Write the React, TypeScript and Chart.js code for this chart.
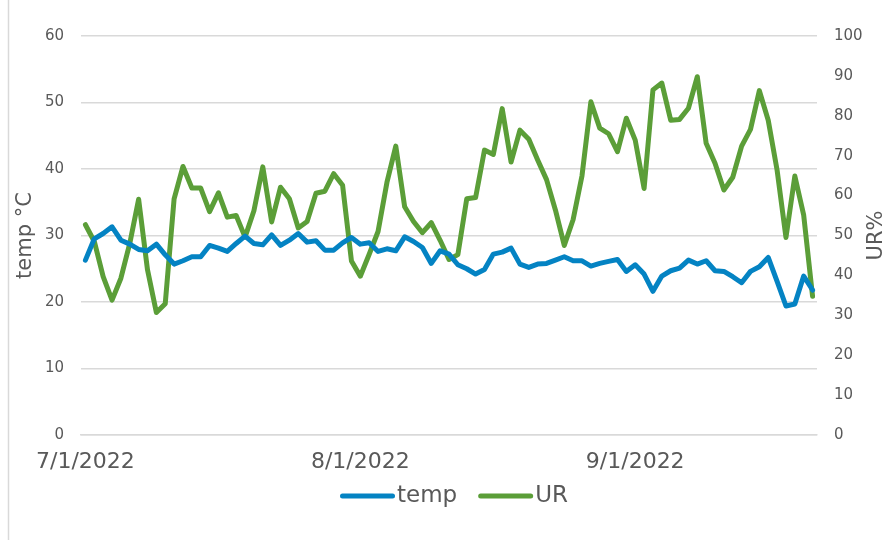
import React, { useEffect, useRef } from 'react';
import { Chart, registerables } from 'chart.js';

Chart.register(...registerables);

// ---- data ----
const YEAR = 2022;
const MONTHS = [7, 8, 9];
const DAYS_SHOWN = [31, 31, 21]; // data runs 7/1/2022 .. 9/21/2022
const dateLabels: string[] = [];
MONTHS.forEach((m, k) => {
  for (let d = 1; d <= DAYS_SHOWN[k]; d++) dateLabels.push(`${m}/${d}/${YEAR}`);
});

const tempValues = [
  26.3, 29.5, 30.3, 31.3, 29.3, 28.7, 27.9, 27.7, 28.7, 27.1,
  25.7, 26.2, 26.8, 26.8, 28.5, 28.1, 27.6, 28.8, 29.9, 28.8,
  28.6, 30.1, 28.5, 29.3, 30.3, 29.0, 29.2, 27.8, 27.8, 28.9,
  29.7, 28.7, 28.9, 27.6, 28.0, 27.7, 29.8, 29.1, 28.2, 25.8,
  27.7, 27.2, 25.6, 25.0, 24.2, 24.9, 27.2, 27.5, 28.1, 25.7,
  25.2, 25.7, 25.8, 26.3, 26.8, 26.2, 26.2, 25.4, 25.8, 26.1,
  26.4, 24.6, 25.6, 24.2, 21.6, 23.9, 24.7, 25.1, 26.3, 25.7,
  26.2, 24.7, 24.6, 23.8, 22.9, 24.6, 25.3, 26.7, 23.1, 19.4,
  19.7, 23.9, 21.8,
];

const urValues = [
  52.7, 48.5, 39.7, 33.8, 39.3, 48.0, 59.1, 41.4, 30.7, 32.9,
  59.2, 67.3, 61.9, 61.9, 56.0, 60.7, 54.6, 55.0, 49.6, 56.2,
  67.2, 53.4, 62.1, 59.2, 51.9, 53.5, 60.6, 61.1, 65.5, 62.6,
  43.6, 39.8, 45.3, 51.0, 63.3, 72.4, 57.2, 53.5, 50.7, 53.2,
  48.8, 44.0, 45.2, 59.2, 59.5, 71.4, 70.3, 81.8, 68.4, 76.4,
  74.1, 68.9, 64.0, 56.4, 47.5, 54.0, 65.0, 83.5, 76.9, 75.5,
  71.0, 79.4, 73.9, 61.8, 86.5, 88.2, 78.9, 79.1, 81.9, 89.8,
  73.1, 68.1, 61.4, 64.6, 72.4, 76.6, 86.3, 78.9, 66.4, 49.5,
  64.9, 55.1, 34.8,
];

const seriesNames = ['temp', 'UR'];
const tempAxisTitle = 'temp °C';
const urAxisTitle = 'UR%';

// ---- styles ----
const FONT = "'DejaVu Sans', Verdana, sans-serif";
const TEXT = '#595959';
const GRID = '#d9d9d9';
const BLUE = '#0483C3';
const GREEN = '#5B9E38';

const isMonthStart = (i: number) => {
  const l = dateLabels[i];
  return typeof l === 'string' && l.split('/')[1] === '1';
};

const framePlugin = {
  id: 'frame',
  beforeDraw(chart: any) {
    const ctx = chart.ctx;
    ctx.save();
    ctx.fillStyle = '#ffffff';
    ctx.fillRect(0, 0, chart.width, chart.height);
    ctx.strokeStyle = GRID;
    ctx.lineWidth = 1.5;
    ctx.beginPath();
    ctx.moveTo(8.5, 0);
    ctx.lineTo(8.5, chart.height);
    ctx.stroke();
    ctx.restore();
  },
};

const legendPlugin = {
  id: 'customLegend',
  afterDraw(chart: any) {
    const ctx = chart.ctx;
    const ca = chart.chartArea;
    ctx.save();
    ctx.font = `23px ${FONT}`;
    ctx.textBaseline = 'middle';
    ctx.textAlign = 'left';
    const lw = 5;
    const lineLen = 55; // including round caps
    const gapText = 2;
    const itemGap = 21;
    const items = chart.data.datasets.map((ds: any) => ({
      label: ds.label,
      color: ds.borderColor,
      w: ctx.measureText(ds.label).width,
    }));
    let total = 0;
    items.forEach((it: any, k: number) => {
      total += lineLen + gapText + it.w + (k > 0 ? itemGap : 0);
    });
    let x = (ca.left + ca.right) / 2 + 5 - total / 2;
    const y = ca.bottom + 61;
    items.forEach((it: any) => {
      ctx.beginPath();
      ctx.strokeStyle = it.color;
      ctx.lineWidth = lw;
      ctx.lineCap = 'round';
      ctx.moveTo(x + lw / 2, y);
      ctx.lineTo(x + lineLen - lw / 2, y);
      ctx.stroke();
      x += lineLen + gapText;
      ctx.fillStyle = TEXT;
      ctx.fillText(it.label, x, y);
      x += it.w + itemGap;
    });
    ctx.restore();
  },
};

const rightTitlePlugin = {
  id: 'rightTitle',
  afterDraw(chart: any) {
    const ctx = chart.ctx;
    const ca = chart.chartArea;
    ctx.save();
    ctx.font = `21px ${FONT}`;
    ctx.fillStyle = TEXT;
    ctx.textAlign = 'center';
    ctx.textBaseline = 'middle';
    ctx.translate(chart.width - 8, (ca.top + ca.bottom) / 2);
    ctx.rotate(-Math.PI / 2);
    ctx.fillText(urAxisTitle, 0, 0);
    ctx.restore();
  },
};

export default function App() {
  const ref = useRef<HTMLCanvasElement | null>(null);

  useEffect(() => {
    if (!ref.current) return;
    const chart = new Chart(ref.current, {
      type: 'line',
      data: {
        labels: dateLabels,
        datasets: [
          {
            label: seriesNames[0],
            data: tempValues,
            borderColor: BLUE,
            backgroundColor: BLUE,
            borderWidth: 5,
            pointRadius: 0,
            tension: 0,
            borderJoinStyle: 'round',
            borderCapStyle: 'round',
            yAxisID: 'y',
          },
          {
            label: seriesNames[1],
            data: urValues,
            borderColor: GREEN,
            backgroundColor: GREEN,
            borderWidth: 5,
            pointRadius: 0,
            tension: 0,
            borderJoinStyle: 'round',
            borderCapStyle: 'round',
            yAxisID: 'y1',
          },
        ],
      },
      options: {
        animation: false,
        responsive: false,
        maintainAspectRatio: false,
        devicePixelRatio: 1,
        layout: { padding: { top: 36, left: 0, right: 0, bottom: 0 } },
        plugins: {
          legend: { display: false },
          tooltip: { enabled: false },
        },
        scales: {
          x: {
            type: 'category',
            offset: true,
            grid: {
              offset: true,
              drawOnChartArea: false,
              drawTicks: true,
              tickLength: 6,
              lineWidth: 1.5,
              color: (c: any) => (isMonthStart(c.index) ? GRID : 'rgba(0,0,0,0)'),
            },
            border: { display: true, color: GRID, width: 1.5 },
            ticks: {
              autoSkip: false,
              maxRotation: 0,
              minRotation: 0,
              padding: 8,
              color: TEXT,
              font: { family: FONT, size: 22 },
              callback: (_v: any, i: number) => (isMonthStart(i) ? dateLabels[i] : null),
            },
            afterFit: (s: any) => {
              s.height = 105;
            },
          },
          y: {
            position: 'left',
            min: 0,
            max: 60,
            ticks: {
              stepSize: 10,
              padding: 17,
              color: TEXT,
              font: { family: FONT, size: 15 },
            },
            grid: { color: GRID, lineWidth: 1.5, drawTicks: false },
            border: { display: false },
            title: {
              display: true,
              text: tempAxisTitle,
              color: TEXT,
              font: { family: FONT, size: 21 },
              padding: { top: 13, bottom: 0 },
            },
            afterFit: (s: any) => {
              s.width = 81;
            },
          },
          y1: {
            position: 'right',
            min: 0,
            max: 100,
            ticks: {
              stepSize: 10,
              padding: 17,
              color: TEXT,
              font: { family: FONT, size: 15 },
            },
            grid: { drawOnChartArea: false, drawTicks: false },
            border: { display: false },
            afterFit: (s: any) => {
              s.width = 68;
            },
          },
        },
      },
      plugins: [framePlugin, legendPlugin, rightTitlePlugin],
    } as any);
    return () => chart.destroy();
  }, []);

  return (
    <div style={{ position: 'fixed', left: 0, top: 0, width: 885, height: 540, background: '#fff', overflow: 'hidden' }}>
      <canvas ref={ref} width={885} height={540} style={{ display: 'block', width: 885, height: 540 }} />
    </div>
  );
}
